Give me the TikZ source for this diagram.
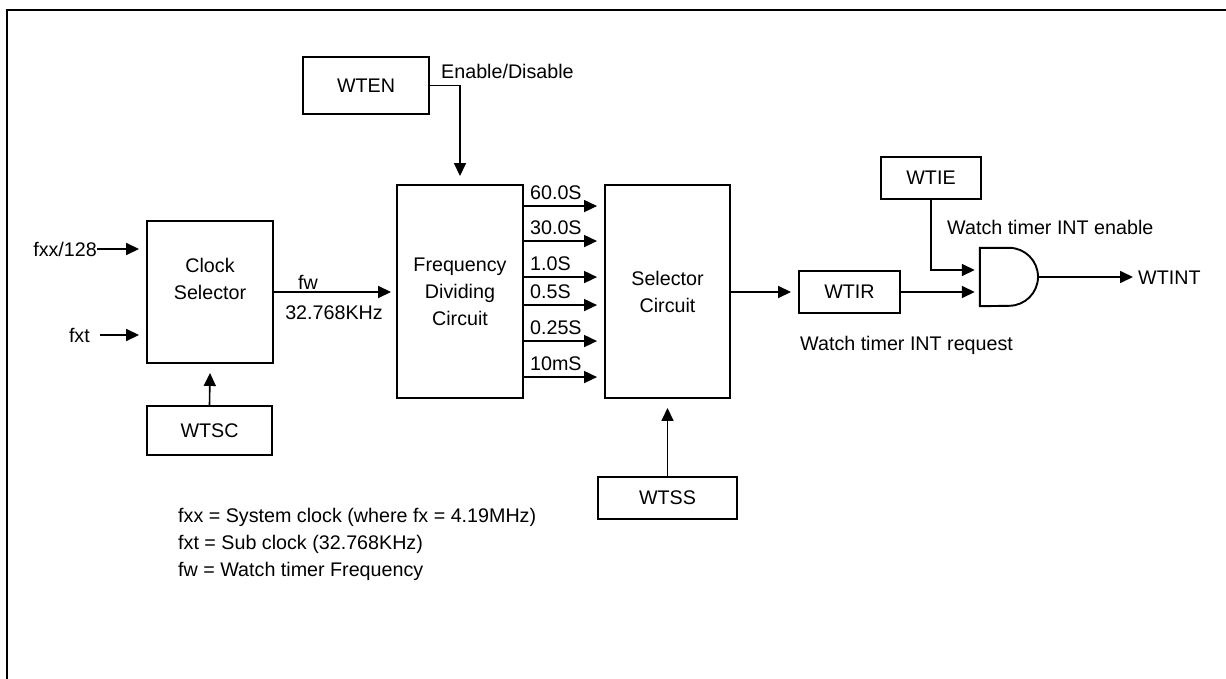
\documentclass[tikz,border=0pt]{standalone}
\usepackage{fontspec}
\setmainfont{Liberation Sans}
\usetikzlibrary{arrows.meta,calc}
\begin{document}
\begin{tikzpicture}[x=1pt,y=-1pt,
  box/.style={draw, line width=1.9pt, inner sep=0pt, align=center},
  lbl/.style={inner sep=0pt},
  arr/.style={line width=1.6pt, -{Triangle[length=13pt,width=12pt]}},
  font=\fontsize{19.7}{27}\selectfont]
\useasboundingbox (0,0) rectangle (1226,679);
\draw[line width=2.4pt] (7,679) -- (7,10) -- (1226,10);

% boxes
\node[box, minimum width=126pt, minimum height=57pt] (wten) at (366,85.5) {WTEN};
\node[box, minimum width=126pt, minimum height=213pt] (fdc) at (460,291.5) {Frequency\\Dividing\\Circuit};
\node[box, minimum width=125pt, minimum height=213pt] (sel) at (667.5,291.5) {Selector\\Circuit};
\node[box, minimum width=126pt, minimum height=142pt] (cs) at (210,292) {};
\node[lbl, align=center] (cstext) at (210,279) {Clock\\Selector};
\node[box, minimum width=125pt, minimum height=49pt] (wtsc) at (209.5,430.5) {WTSC};
\node[box, minimum width=139pt, minimum height=42pt] (wtss) at (667.5,498) {WTSS};
\node[box, minimum width=101pt, minimum height=42pt] (wtir) at (849.5,292) {WTIR};
\node[box, minimum width=100pt, minimum height=42pt] (wtie) at (931,178) {WTIE};

% AND gate
\node[minimum width=58pt, minimum height=58pt, inner sep=0pt] (gate) at (1009,277) {};
\draw[line width=1.9pt, line join=miter] (gate.north west) -- (gate.north)
  arc[start angle=90, end angle=-90, radius=29pt] -- (gate.south west) -- cycle;

% labels
\node[lbl, anchor=base west] (endis) at (441,79) {Enable/Disable};
\node[lbl, anchor=base east] (fxx) at (97,256) {fxx/128};
\node[lbl, anchor=base east] (fxt) at (90,342) {fxt};
\node[lbl] (fw) at (308,282) {fw};
\node[lbl] (fwf) at (334,313) {32.768KHz};
\node[lbl, anchor=base west] (inten) at (947,234) {Watch timer INT enable};
\node[lbl, anchor=base west] (intreq) at (800,350) {Watch timer INT request};
\node[lbl, anchor=base west] (wtint) at (1138,284) {WTINT};
\node[lbl, anchor=base west, align=left] (legend) at (178,576)
  {fxx = System clock (where fx = 4.19MHz)\\fxt = Sub clock (32.768KHz)\\fw = Watch timer Frequency};

% connectors
\draw[arr] (fxx.east |- 0,249) -- ([xshift=-7pt]cs.west |- 0,249);
\draw[arr] ([xshift=10pt]fxt.east |- 0,335) -- ([xshift=-7pt]cs.west |- 0,335);
\draw[arr] (wten.east) -| ([yshift=8pt]fdc.north);
\draw[arr] (cs.east) -- ([xshift=-5pt]fdc.west |- cs.east);
\draw[arr] (wtsc.north) -- ([yshift=-9pt]cs.south);
\draw[arr] (wtss.north) -- ([yshift=-9pt]sel.south);
\foreach \d/\t in {22/60.0S, 57/30.0S, 93/1.0S, 121/0.5S, 157/0.25S, 193/10mS} {
  \draw[arr] ([yshift=-\d pt]fdc.north east) -- ([yshift=-\d pt, xshift=-7pt]sel.north west);
  \node[lbl, anchor=base west] (lab\d) at ([xshift=6pt, yshift={(7-\d)*1pt}]fdc.north east) {\t};
}
\draw[arr] (sel.east |- wtir.west) -- ([xshift=-7pt]wtir.west);
\draw[arr] (wtir.east) -- ([xshift=-5pt]gate.west |- wtir.east);
\draw[arr] (wtie.south) |- ([xshift=-5pt, yshift=7pt]gate.west);
\draw[arr] (gate.east) -- ([xshift=-5pt]wtint.west |- gate.east);
\end{tikzpicture}
\end{document}
